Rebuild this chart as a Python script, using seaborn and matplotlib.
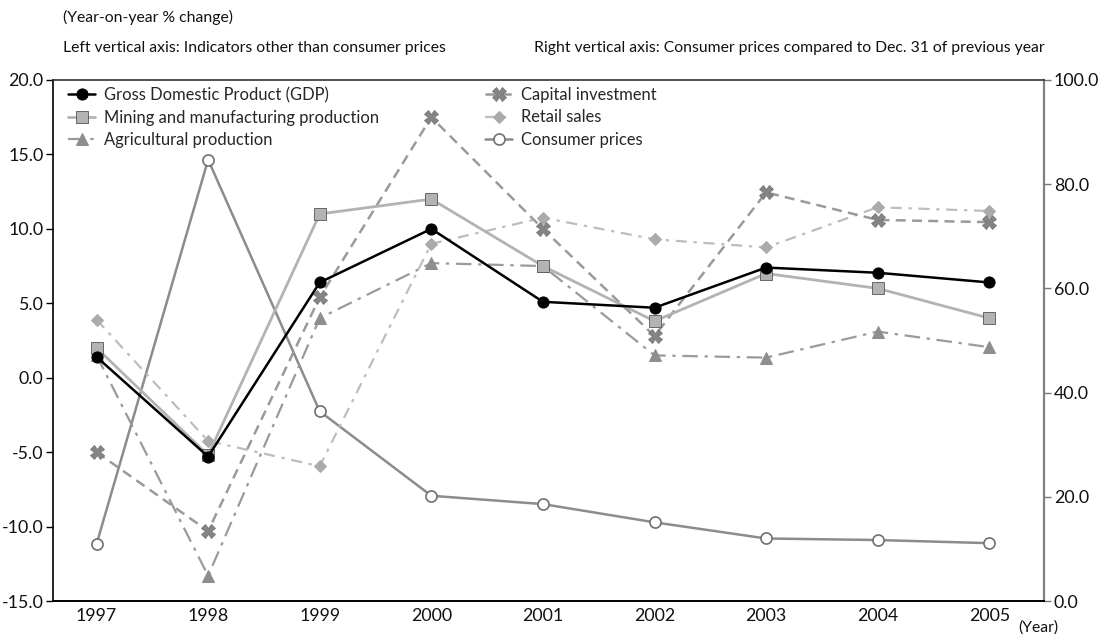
import matplotlib
matplotlib.use("Agg")
import matplotlib.pyplot as plt
import seaborn as sns
import numpy as np
import pandas as pd

years = ["1997", "1998", "1999", "2000", "2001", "2002", "2003", "2004", "2005"]
gdp = [1.4, -5.3, 6.4, 10.0, 5.1, 4.7, 7.4, 7.05, 6.4]
mining = [2.0, -5.2, 11.0, 12.0, 7.5, 3.8, 7.0, 6.0, 4.0]
agri = [1.5, -13.3, 4.0, 7.7, 7.5, 1.5, 1.35, 3.1, 2.05]
capital = [-5.0, -10.3, 5.4, 17.5, 10.0, 2.8, 12.45, 10.6, 10.45]
retail = [3.9, -4.25, -5.95, 9.0, 10.75, 9.3, 8.75, 11.45, 11.2]
consumer = [10.9, 84.7, 36.4, 20.2, 18.6, 15.1, 12.0, 11.7, 11.1]

left_ticks = [-15.0, -10.0, -5.0, 0.0, 5.0, 10.0, 15.0, 20.0]
right_ticks = [0.0, 20.0, 40.0, 60.0, 80.0, 100.0]

sns.set_theme(style="white")
plt.rcParams['font.family'] = ['Lato', 'DejaVu Sans']

W, H = 1103, 637
fig = plt.figure(figsize=(W / 100, H / 100), dpi=100)
renderer = fig.canvas.get_renderer()


def fit_size(text, target_px, base=12.0):
    t = fig.text(0, 0, text, fontsize=base)
    w = t.get_window_extent(renderer=renderer).width
    t.remove()
    return base * target_px / w


fs_tick = fit_size("2005", 41)
fs_leg = fit_size("Mining and manufacturing production", 274)
fs_head = fit_size("Left vertical axis: Indicators other than consumer prices", 382)

L, R, T, B = 53, 1044, 80, 601
ax = fig.add_axes([L / W, 1 - B / H, (R - L) / W, (B - T) / H])
ax2 = ax.twinx()

x = np.arange(len(years))

ax.set_zorder(ax2.get_zorder() + 1)
ax.patch.set_visible(False)

sns.lineplot(x=x, y=consumer, ax=ax2, color="#8c8c8c", lw=1.8, marker="o",
             markersize=8, markerfacecolor="white", markeredgecolor="#707070",
             markeredgewidth=1.2, label="Consumer prices", legend=False)

sns.lineplot(x=x, y=retail, ax=ax, color="#bdbdbd", lw=1.6, marker="D",
             markersize=6.5, markerfacecolor="#ababab", markeredgecolor="#ababab",
             label="Retail sales", legend=False)
ax.lines[-1].set_dashes([5, 3, 1.5, 3])
sns.lineplot(x=x, y=agri, ax=ax, color="#9a9a9a", lw=1.6, marker="^",
             markersize=8, markerfacecolor="#8e8e8e", markeredgecolor="#8e8e8e",
             label="Agricultural production", legend=False)
ax.lines[-1].set_dashes([7, 3, 1.5, 3])
sns.lineplot(x=x, y=capital, ax=ax, color="#9a9a9a", lw=1.8, marker="X",
             markersize=10, markerfacecolor="#858585", markeredgecolor="#6e6e6e",
             markeredgewidth=0.5, label="Capital investment", legend=False)
ax.lines[-1].set_dashes([4, 2.5])
sns.lineplot(x=x, y=mining, ax=ax, color="#b3b3b3", lw=2.0, marker="s",
             markersize=9, markerfacecolor="#b3b3b3", markeredgecolor="#555555",
             markeredgewidth=0.6, label="Mining and manufacturing production", legend=False)
sns.lineplot(x=x, y=gdp, ax=ax, color="black", lw=1.8, marker="o",
             markersize=8, markerfacecolor="black", markeredgecolor="black",
             label="Gross Domestic Product (GDP)", legend=False)

ax.set_xlim(-0.39, 8.49)
ax.set_ylim(-15, 20)
ax2.set_ylim(0, 100)
ax.set_yticks(left_ticks)
ax.set_yticklabels([f"{v:.1f}" for v in left_ticks])
ax2.set_yticks(right_ticks)
ax2.set_yticklabels([f"{v:.1f}" for v in right_ticks])
ax.set_xticks(x)
ax.set_xticklabels(years)
ax.set_xlabel("")
ax.set_ylabel("")
ax2.set_ylabel("")
ax.grid(False)
ax2.grid(False)

ax.tick_params(axis="y", direction="out", length=5, width=1, color="black",
               labelsize=fs_tick, pad=2, left=True, labelcolor="#111111")
ax.tick_params(axis="x", length=0, labelsize=fs_tick, pad=5, labelcolor="#111111")
ax2.tick_params(axis="y", direction="out", length=5, width=1, color="#777777",
                labelsize=fs_tick, pad=2, right=True, labelcolor="#111111")

for a in (ax, ax2):
    for s in a.spines.values():
        s.set_visible(True)
ax.spines["left"].set_color("black"); ax.spines["left"].set_linewidth(1.2)
ax.spines["bottom"].set_color("black"); ax.spines["bottom"].set_linewidth(1.4)
ax.spines["top"].set_color("#333333"); ax.spines["top"].set_linewidth(1.2)
ax.spines["right"].set_visible(False)
ax2.spines["right"].set_color("#808080"); ax2.spines["right"].set_linewidth(1.6)
ax2.spines["left"].set_visible(False)
ax2.spines["top"].set_visible(False)
ax2.spines["bottom"].set_visible(False)

# legend
em_px = fs_leg * 100 / 72
h = {l.get_label(): l for l in ax.lines + ax2.lines}
col1 = ["Gross Domestic Product (GDP)", "Mining and manufacturing production", "Agricultural production"]
col2 = ["Capital investment", "Retail sales", "Consumer prices"]
leg_kw = dict(loc="center left", frameon=False, fontsize=fs_leg,
              handlelength=27 / em_px, handletextpad=9 / em_px,
              labelspacing=0.4, borderpad=0, borderaxespad=0,
              bbox_transform=fig.transFigure)
leg1 = ax.legend([h[k] for k in col1], col1,
                 bbox_to_anchor=(68 / W, 1 - 117.5 / H), **leg_kw)
ax.add_artist(leg1)
ax.legend([h[k] for k in col2], col2,
          bbox_to_anchor=(485 / W, 1 - 117.5 / H), **leg_kw)

fig.text(63 / W, 1 - 17 / H, "(Year-on-year % change)", fontsize=fs_head, va="center", ha="left", color="#111111")
fig.text(63 / W, 1 - 48 / H, "Left vertical axis: Indicators other than consumer prices",
         fontsize=fs_head, va="center", ha="left", color="#111111")
fig.text(1045 / W, 1 - 48 / H, "Right vertical axis: Consumer prices compared to Dec. 31 of previous year",
         fontsize=fs_head, va="center", ha="right", color="#111111")
fig.text(1018 / W, 1 - 628 / H, "(Year)", fontsize=fs_head, va="center", ha="left", color="#111111")

fig.savefig("out.png", dpi=100)
